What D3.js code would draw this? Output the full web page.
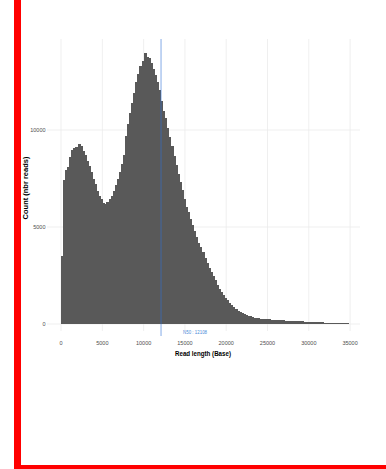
<!DOCTYPE html>
<html>
<head>
<meta charset="utf-8">
<script src="https://cdn.jsdelivr.net/npm/d3@7"></script>
<style>
  body { margin: 0; background: #fff; }
  svg { display: block; font-family: "Liberation Sans", Arial, sans-serif; }
</style>
</head>
<body>
<svg id="chart" width="386" height="469"></svg>
<script>
// Histogramme des longueurs de reads (pas de 250 bases)
const binWidth = 250;
const counts = [
  3500, 7400, 7950, 8100, 8600, 8950, 9050, 9140, 9300, 9200,
  8900, 8700, 8400, 8150, 7850, 7500, 7200, 6850, 6600, 6420,
  6250, 6190, 6270, 6420, 6600, 6850, 7150, 7450, 7850, 8250,
  8700, 9700, 10300, 10900, 11400, 11900, 12450, 12900, 13300, 13550,
  13950, 13750, 13700, 13450, 13150, 12850, 12450, 12050, 11500, 11000,
  10600, 10100, 9650, 9150, 8650, 8200, 7750, 7300, 6900, 6450,
  6050, 5750, 5400, 5100, 4800, 4500, 4200, 3950, 3700, 3400,
  3150, 2900, 2700, 2500, 2250, 2000, 1800, 1650, 1500, 1350,
  1220, 1080, 970, 870, 760, 680, 600, 550, 500, 460,
  420, 390, 360, 335, 310, 290, 275, 265, 255, 245,
  235, 225, 215, 210, 200, 195, 190, 185, 180, 172,
  165, 160, 155, 150, 145, 138, 132, 126, 120, 115,
  108, 102, 97, 92, 88, 84, 80, 75, 70, 66,
  62, 58, 54, 50, 46, 42, 38, 35, 30
];
const xTicks = [0, 5000, 10000, 15000, 20000, 25000, 30000, 35000];
const yTicks = [0, 5000, 10000];
const n50 = 12108;
const n50Label = "N50 : 12108";

const svg = d3.select("#chart");

// cadre rouge (gauche et bas)
svg.append("rect").attr("x", 14).attr("y", 0).attr("width", 7).attr("height", 469).attr("fill", "#ff0000");
svg.append("rect").attr("x", 14).attr("y", 465).attr("width", 372).attr("height", 4).attr("fill", "#ff0000");

// Escalas (panel 47..360 x 39..331)
const xScale = d3.scaleLinear().domain([-1700, 36200]).range([47, 360]);
const yScale = d3.scaleLinear().domain([-360, 14690]).range([331, 39]);

// Grille
svg.append("g").selectAll("line").data(xTicks).enter().append("line")
  .attr("x1", d => xScale(d)).attr("x2", d => xScale(d))
  .attr("y1", 39).attr("y2", 331)
  .attr("stroke", "#ebebeb").attr("stroke-width", 0.8);
svg.append("g").selectAll("line").data(yTicks).enter().append("line")
  .attr("x1", 47).attr("x2", 360)
  .attr("y1", d => yScale(d)).attr("y2", d => yScale(d))
  .attr("stroke", "#ebebeb").attr("stroke-width", 0.8);

// Barres (un peu de recouvrement pour eviter les lignes blanches)
svg.append("g").attr("shape-rendering", "crispEdges")
  .selectAll("rect").data(counts).enter().append("rect")
  .attr("x", (d, i) => xScale(i * binWidth))
  .attr("width", (d, i) => xScale((i + 1) * binWidth) - xScale(i * binWidth) + 1)
  .attr("y", d => yScale(d))
  .attr("height", d => yScale(0) - yScale(d))
  .attr("fill", "#595959");

// Ligne N50
svg.append("line")
  .attr("x1", xScale(n50)).attr("x2", xScale(n50))
  .attr("y1", 39).attr("y2", 336)
  .attr("stroke", "rgb(50,115,215)").attr("stroke-opacity", 0.5).attr("stroke-width", 1.2);
svg.append("text")
  .attr("x", xScale(n50) + 22).attr("y", 333.5)
  .attr("font-size", 5).attr("fill", "#4a8ad8")
  .attr("textLength", 24).attr("lengthAdjust", "spacingAndGlyphs")
  .text(n50Label);

// Etiquettes des axes
svg.append("g").selectAll("text").data(xTicks).enter().append("text")
  .attr("x", d => xScale(d)).attr("y", 345)
  .attr("text-anchor", "middle").attr("font-size", 5.5).attr("fill", "#4d4d4d")
  .text(d => d);
svg.append("g").selectAll("text").data(yTicks).enter().append("text")
  .attr("x", 45.5).attr("y", d => yScale(d) + 2)
  .attr("text-anchor", "end").attr("font-size", 5.5).attr("fill", "#4d4d4d")
  .text(d => d);

// Titres
svg.append("text")
  .attr("x", 203).attr("y", 355.5)
  .attr("text-anchor", "middle").attr("font-size", 7.5).attr("font-weight", "bold")
  .attr("textLength", 56).attr("lengthAdjust", "spacingAndGlyphs")
  .text("Read length (Base)");
svg.append("text")
  .attr("transform", "translate(28,188) rotate(-90)")
  .attr("text-anchor", "middle").attr("font-size", 7.5).attr("font-weight", "bold")
  .text("Count (nbr reads)");
</script>
</body>
</html>
